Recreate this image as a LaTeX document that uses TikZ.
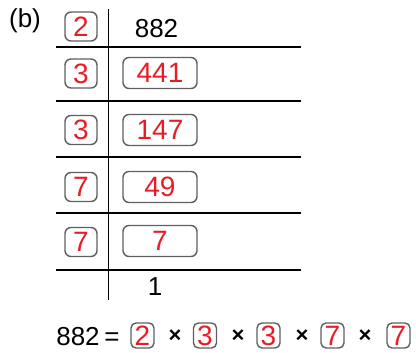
\documentclass[tikz,border=0pt]{standalone}
\usepackage{fontspec}
\setmainfont{Liberation Sans}
\definecolor{digred}{RGB}{232,28,36}
\definecolor{boxgray}{RGB}{95,95,95}
\tikzset{
  x=1pt,y=-1pt,
  blk/.style={inner sep=0pt,font=\fontsize{26}{26}\selectfont,text=black},
  lbox/.style={draw=boxgray,line width=1.4pt,rounded corners=6pt,minimum width=32pt,minimum height=29pt,inner sep=0pt,text=digred,font=\fontsize{28}{28}\selectfont},
  rbox/.style={lbox,minimum width=74pt,minimum height=31pt},
  sbox/.style={lbox,minimum width=23pt,minimum height=25pt,rounded corners=5pt},
  rule/.style={line width=1.6pt,black},
  times/.style={inner sep=0pt,font=\fontsize{22}{22}\selectfont\bfseries}
}
\begin{document}
\begin{tikzpicture}
\useasboundingbox (0,0) rectangle (416,353);
% label
\node[blk,anchor=base] (lab) at (25,28) {(b)};
% rules
\draw[rule] (108.5,9) -- (108.5,300);
\foreach \yy in {47,101,157,213,270}{\draw[rule] (56,\yy) -- (301,\yy);}
% left divisors
\node[lbox] (d1) at (81,26.5) {2};
\node[lbox] (d2) at (81,73.5) {3};
\node[lbox] (d3) at (81,130) {3};
\node[lbox] (d4) at (81,187) {7};
\node[lbox] (d5) at (81,242) {7};
% quotients
\node[blk,anchor=base] (q0) at (156.5,38) {882};
\node[rbox] (q1) at (160,73) {441};
\node[rbox] (q2) at (160,130) {147};
\node[rbox] (q3) at (160,187) {49};
\node[rbox] (q4) at (160,241) {7};
\node[blk,anchor=base] (q5) at (155,295) {1};
% equation
\node[blk,anchor=base] (e0) at (78,345) {882};
\node[blk,anchor=base] (eq) at (112,345) {=};
\node[sbox] (f1) at (142.5,335.5) {2};
\node[times] (t1) at (175,336) {×};
\node[sbox] (f2) at (205,335.5) {3};
\node[times] (t2) at (238,336) {×};
\node[sbox] (f3) at (268.5,335.5) {3};
\node[times] (t3) at (302,336) {×};
\node[sbox] (f4) at (332.5,335.5) {7};
\node[times] (t4) at (365,336) {×};
\node[sbox] (f5) at (398.5,335.5) {7};
\end{tikzpicture}
\end{document}
